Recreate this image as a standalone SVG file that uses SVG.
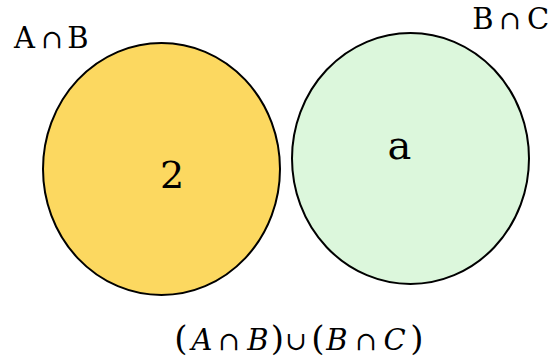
<svg xmlns="http://www.w3.org/2000/svg" width="557" height="360" viewBox="0 0 557 360">
<style>
.c{stroke:#000;stroke-width:2}
text{font-family:"DejaVu Serif",serif;fill:#000;text-anchor:middle}
.i{font-style:italic}
.op{font-size:26px}
.p{font-size:34px}
</style>
<rect width="557" height="360" fill="#fff"/>
<g id="setAB">
<ellipse class="c" cx="161.5" cy="169" rx="118.5" ry="126" fill="#FCD860"/>
<text x="172" y="188" font-size="38">2</text>
</g>
<g id="setBC">
<ellipse class="c" cx="410.5" cy="158.5" rx="118.5" ry="125.5" fill="#DCF7DC"/>
<text x="399.5" y="159" font-size="40">a</text>
</g>
<g id="labels">
<text y="48" font-size="29"><tspan x="24.5">A</tspan><tspan x="52" class="op">∩</tspan><tspan x="78">B</tspan></text>
<text y="29" font-size="29"><tspan x="483">B</tspan><tspan x="510" class="op">∩</tspan><tspan x="538">C</tspan></text>
<text y="350" font-size="29"><tspan x="181" class="p">(</tspan><tspan x="202" class="i">A</tspan><tspan x="229" class="op">∩</tspan><tspan x="258" class="i">B</tspan><tspan x="277.5" class="p">)</tspan><tspan x="296" class="op">∪</tspan><tspan x="318" class="p">(</tspan><tspan x="337" class="i">B</tspan><tspan x="366" class="op">∩</tspan><tspan x="394.5" class="i">C</tspan><tspan x="417" class="p">)</tspan></text>
</g>
<g id="connectors"></g>
</svg>
